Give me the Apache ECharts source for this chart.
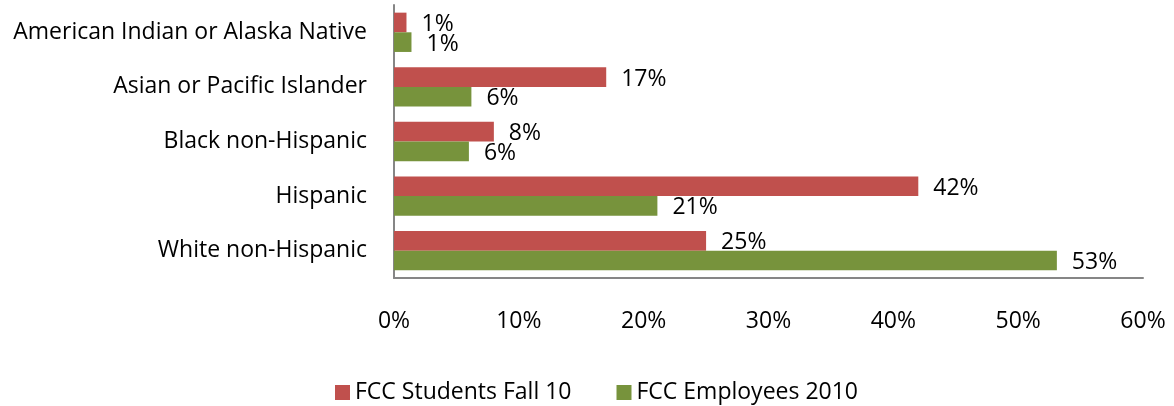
<!DOCTYPE html>
<html>
<head>
<meta charset="utf-8">
<script src="https://cdn.jsdelivr.net/npm/echarts@6/dist/echarts.min.js"></script>
<style>
  html, body { margin: 0; padding: 0; background: #fff; }
  #main { width: 1174px; height: 406px; }
</style>
</head>
<body>
<div id="main"></div>
<script>
// categories, top to bottom
const categories = [
  'American Indian or Alaska Native',
  'Asian or Pacific Islander',
  'Black non-Hispanic',
  'Hispanic',
  'White non-Hispanic'
];
const seriesNames = ['FCC Students Fall 10', 'FCC Employees 2010'];
const students = [1.0, 17.0, 8.0, 42.0, 25.0];
const employees = [1.4, 6.2, 6.0, 21.1, 53.1];
const xTicks = [0, 10, 20, 30, 40, 50, 60];

const fontFam = '"Open Sans", sans-serif';
const fs = 23;

let myChart = echarts.init(document.getElementById('main'));

let labelCfg = {
  show: true,
  position: 'right',
  distance: 15,
  offset: [0, 2],
  color: '#000',
  fontFamily: fontFam,
  fontSize: fs,
  formatter: p => Math.round(p.value) + '%'
};

let option = {
  animation: false,
  textStyle: { fontFamily: fontFam },
  grid: { left: 394, right: 31, top: 5, bottom: 128, containLabel: false },
  legend: {
    data: seriesNames,
    top: 376,
    left: 330,
    itemWidth: 15,
    itemHeight: 15,
    itemGap: 45,
    icon: 'rect',
    textStyle: { fontFamily: fontFam, fontSize: fs, color: '#000' }
  },
  xAxis: {
    type: 'value',
    min: xTicks[0],
    max: xTicks[xTicks.length - 1],
    interval: 10,
    splitLine: { show: false },
    axisLine: { show: true, lineStyle: { color: '#868686', width: 2 } },
    axisTick: { show: false },
    axisLabel: {
      margin: 32,
      color: '#000',
      fontFamily: fontFam,
      fontSize: fs,
      formatter: v => v + '%'
    }
  },
  yAxis: {
    type: 'category',
    data: categories,
    inverse: true,
    axisLine: { show: true, lineStyle: { color: '#868686', width: 2 } },
    axisTick: { show: false },
    axisLabel: {
      margin: 27,
      color: '#000',
      fontFamily: fontFam,
      fontSize: fs
    }
  },
  series: [
    {
      name: seriesNames[0],
      type: 'bar',
      data: students,
      barGap: '0%',
      barCategoryGap: '28%',
      itemStyle: { color: '#C0504D' },
      label: labelCfg
    },
    {
      name: seriesNames[1],
      type: 'bar',
      data: employees,
      barGap: '0%',
      barCategoryGap: '28%',
      itemStyle: { color: '#77933C' },
      label: labelCfg
    }
  ]
};

myChart.setOption(option);
</script>
</body>
</html>
